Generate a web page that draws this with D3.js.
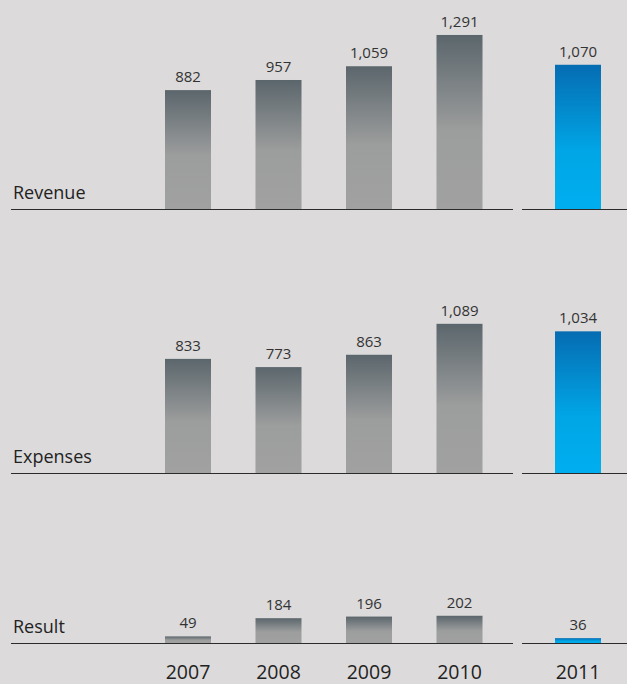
<!DOCTYPE html>
<html>
<head>
<meta charset="utf-8">
<script src="https://cdn.jsdelivr.net/npm/d3@7/dist/d3.min.js"></script>
<style>
  html, body { margin: 0; padding: 0; background: #dcdadb; }
  svg { display: block; }
  text { font-family: "Open Sans", "Noto Sans", sans-serif; }
</style>
</head>
<body>
<div id="chart"></div>
<script>
// Historical years and the current year shown in its own column
const years = ["2007", "2008", "2009", "2010"];
const currentYear = "2011";

// Panel names
const metrics = ["Revenue", "Expenses", "Result"];

// Values per metric, 2007-2010
const revenueHistory = [882, 957, 1059, 1291];
const expensesHistory = [833, 773, 863, 1089];
const resultHistory = [49, 184, 196, 202];

// Values for 2011
const revenueCurrent = 1070;
const expensesCurrent = 1034;
const resultCurrent = 36;

const fmt = d3.format(",");

const W = 627, H = 684;
const svg = d3.select("#chart").append("svg")
  .attr("width", W).attr("height", H);

const defs = svg.append("defs");
const grey = defs.append("linearGradient")
  .attr("id", "greyFill").attr("x1", 0).attr("y1", 0).attr("x2", 0).attr("y2", 1);
grey.append("stop").attr("offset", 0).attr("stop-color", "#5b666c");
grey.append("stop").attr("offset", 0.55).attr("stop-color", "#9c9d9d");
grey.append("stop").attr("offset", 1).attr("stop-color", "#a1a1a1");

const blue = defs.append("linearGradient")
  .attr("id", "blueFill").attr("x1", 0).attr("y1", 0).attr("x2", 0).attr("y2", 1);
blue.append("stop").attr("offset", 0).attr("stop-color", "#066cb2");
blue.append("stop").attr("offset", 0.6).attr("stop-color", "#00a6e6");
blue.append("stop").attr("offset", 1).attr("stop-color", "#00aeef");

// Horizontal placement
const xHist = d3.scaleBand().domain(years)
  .range([142.75, 504.75]).paddingInner(0.4917).paddingOuter(0.24585);
const xCur = d3.scaleBand().domain([currentYear])
  .range([532.75, 623.25]).paddingInner(0.4917).paddingOuter(0.24585);

// Panels: baseline position and height scale
const panels = [
  { name: metrics[0], hist: revenueHistory, cur: revenueCurrent, base: 209, pxPerUnit: 0.1348 },
  { name: metrics[1], hist: expensesHistory, cur: expensesCurrent, base: 473, pxPerUnit: 0.137 },
  { name: metrics[2], hist: resultHistory, cur: resultCurrent, base: 643, pxPerUnit: 0.1348 }
];

panels.forEach(p => {
  const maxV = 1400;
  const y = d3.scaleLinear().domain([0, maxV]).range([p.base, p.base - maxV * p.pxPerUnit]);
  const g = svg.append("g");

  const histData = years.map((yr, i) => ({ year: yr, value: p.hist[i] }));

  g.selectAll("rect.hist").data(histData).join("rect")
    .attr("class", "hist")
    .attr("x", d => xHist(d.year))
    .attr("width", xHist.bandwidth())
    .attr("y", d => y(d.value))
    .attr("height", d => y(0) - y(d.value))
    .attr("fill", "url(#greyFill)");

  g.selectAll("text.histVal").data(histData).join("text")
    .attr("class", "histVal")
    .attr("x", d => xHist(d.year) + xHist.bandwidth() / 2)
    .attr("y", d => y(d.value) - 8)
    .attr("text-anchor", "middle")
    .attr("font-size", 15)
    .attr("fill", "#333")
    .text(d => fmt(d.value));

  const curData = [{ year: currentYear, value: p.cur }];
  g.selectAll("rect.cur").data(curData).join("rect")
    .attr("class", "cur")
    .attr("x", d => xCur(d.year))
    .attr("width", xCur.bandwidth())
    .attr("y", d => y(d.value))
    .attr("height", d => y(0) - y(d.value))
    .attr("fill", "url(#blueFill)");

  g.selectAll("text.curVal").data(curData).join("text")
    .attr("class", "curVal")
    .attr("x", d => xCur(d.year) + xCur.bandwidth() / 2)
    .attr("y", d => y(d.value) - 8)
    .attr("text-anchor", "middle")
    .attr("font-size", 15)
    .attr("fill", "#333")
    .text(d => fmt(d.value));

  // Baselines: one under the history, one under the current year
  g.append("line").attr("x1", 11).attr("x2", 513)
    .attr("y1", p.base + 0.5).attr("y2", p.base + 0.5)
    .attr("stroke", "#2b2b2b").attr("stroke-width", 1.2);
  g.append("line").attr("x1", 522).attr("x2", W)
    .attr("y1", p.base + 0.5).attr("y2", p.base + 0.5)
    .attr("stroke", "#2b2b2b").attr("stroke-width", 1.2);

  g.append("text")
    .attr("x", 13).attr("y", p.base - 10)
    .attr("font-size", 18)
    .attr("fill", "#222")
    .text(p.name);
});

// Year labels along the bottom
const yearAxis = svg.append("g");
yearAxis.selectAll("text.yr").data(years).join("text")
  .attr("class", "yr")
  .attr("x", d => xHist(d) + xHist.bandwidth() / 2)
  .attr("y", 679)
  .attr("text-anchor", "middle")
  .attr("font-size", 19.5)
  .attr("fill", "#222")
  .text(d => d);
yearAxis.append("text")
  .attr("x", xCur(currentYear) + xCur.bandwidth() / 2)
  .attr("y", 679)
  .attr("text-anchor", "middle")
  .attr("font-size", 19.5)
  .attr("fill", "#222")
  .text(currentYear);
</script>
</body>
</html>
